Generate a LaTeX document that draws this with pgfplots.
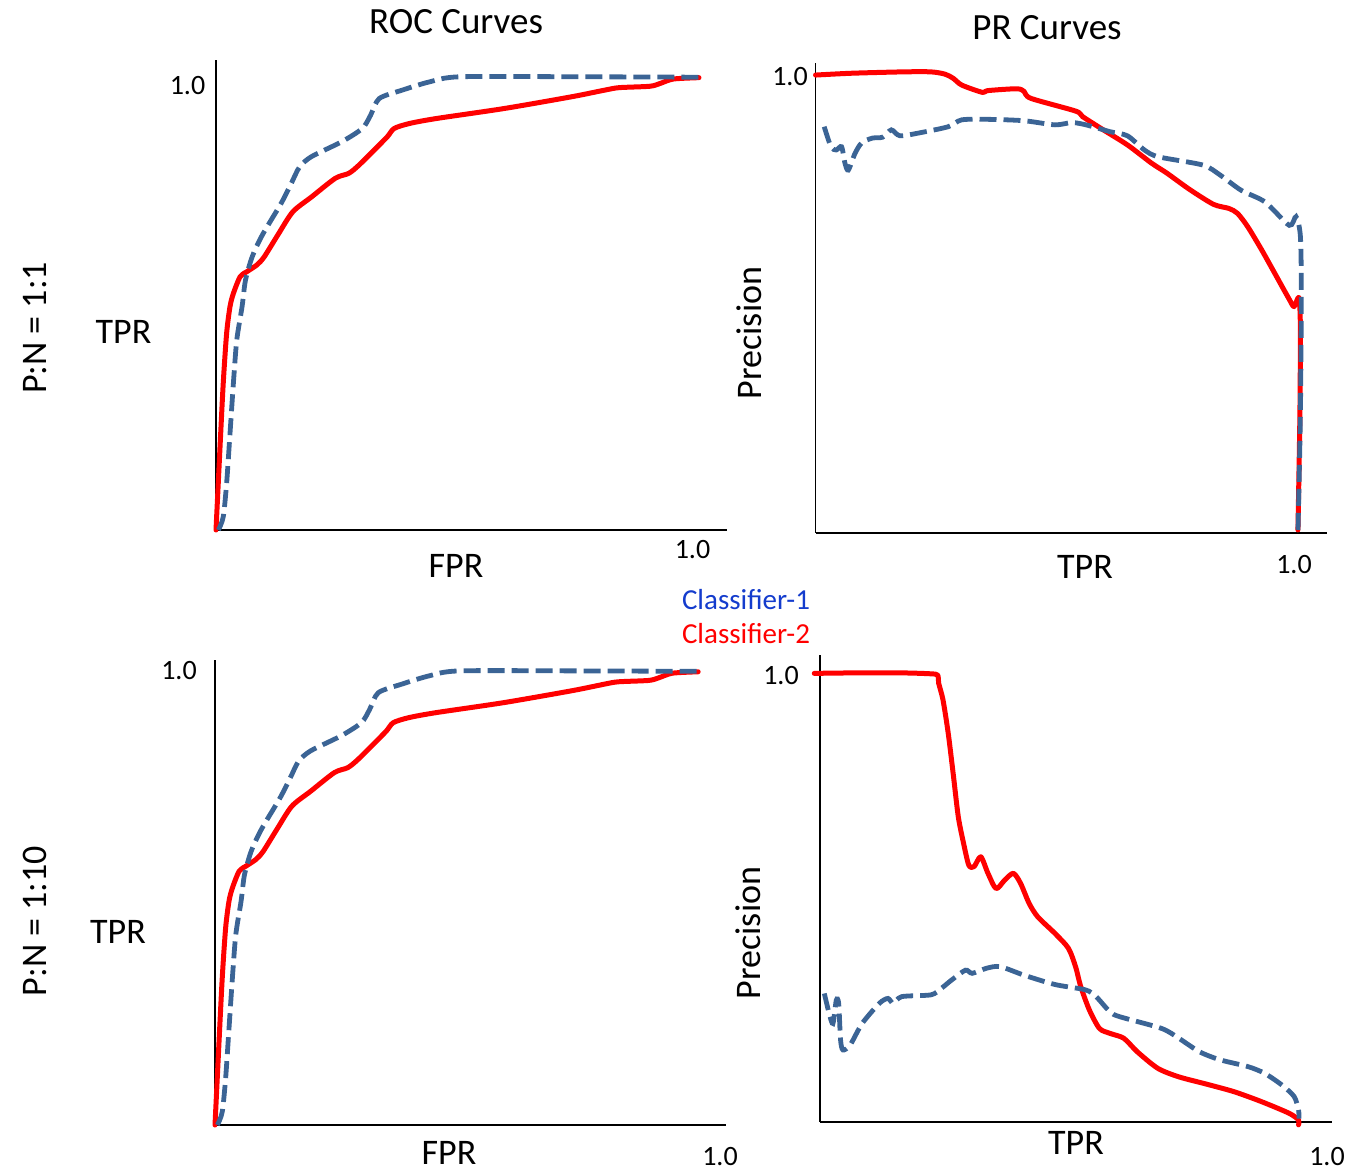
\documentclass[border=0pt]{standalone}
\usepackage{fontspec}
\setmainfont{Carlito}
\usepackage{pgfplots}
\pgfplotsset{compat=1.18}

\definecolor{cblue}{RGB}{59,100,149}
\definecolor{lblue}{RGB}{20,60,205}

\pgfplotsset{
  panel/.style={
    scale only axis,
    axis x line*=bottom, axis y line*=left,
    axis line style={line width=1.8pt, black},
    xtick=\empty, ytick=\empty,
    xmin=0, ymin=0,
    clip=false,
  },
  c1/.style={cblue, line width=4.8pt, dash pattern=on 17pt off 7pt, smooth, tension=0.45},
  c2/.style={red, line width=5pt, line cap=round, line join=round, smooth, tension=0.45},
}

\newcommand\lab[2]{\fontsize{#1}{#1}\selectfont #2}

\begin{document}
\begin{tikzpicture}[x=1pt,y=1pt]
\useasboundingbox (0,0) rectangle (1359,1173);

% ---------------- top left: ROC, P:N = 1:1
\begin{axis}[panel, at={(216pt,643pt)}, anchor=south west,
  width=511pt, height=470pt, xmax=1.058, ymax=1.037]
\addplot[c2] coordinates {
 (0,0) (0.008,0.176) (0.015,0.324) (0.022,0.434) (0.029,0.493) (0.036,0.522)
 (0.050,0.559) (0.064,0.570) (0.085,0.585) (0.100,0.603) (0.128,0.651)
 (0.159,0.702) (0.198,0.735) (0.247,0.776) (0.275,0.787) (0.296,0.805)
 (0.331,0.842) (0.355,0.868) (0.369,0.886) (0.401,0.897) (0.457,0.908)
 (0.597,0.930) (0.737,0.956) (0.807,0.971) (0.835,0.976) (0.898,0.979)
 (0.919,0.985) (0.947,0.995) (1.0,0.998)};
\addplot[c1] coordinates {
 (0.005,0) (0.015,0.029) (0.022,0.103) (0.029,0.213) (0.036,0.324) (0.043,0.419)
 (0.054,0.493) (0.061,0.551) (0.075,0.603) (0.096,0.651) (0.135,0.721)
 (0.156,0.765) (0.173,0.801) (0.198,0.824) (0.261,0.857) (0.303,0.886)
 (0.320,0.915) (0.338,0.952) (0.387,0.971) (0.443,0.989) (0.506,1.0)
 (0.75,1.0) (1.0,0.999)};
\end{axis}

% ---------------- top right: PR, P:N = 1:1
\begin{axis}[panel, at={(815.5pt,640.3pt)}, anchor=south west,
  width=511.4pt, height=469.5pt, xmax=1.059, ymax=1.028]
\addplot[c2] coordinates {
 (0,1.002) (0.075,1.006) (0.182,1.009) (0.239,1.009) (0.268,1.004) (0.285,0.995)
 (0.303,0.980) (0.346,0.964) (0.357,0.968) (0.417,0.972) (0.432,0.966)
 (0.446,0.951) (0.539,0.923) (0.553,0.911) (0.596,0.882) (0.646,0.849)
 (0.696,0.809) (0.728,0.787) (0.774,0.752) (0.824,0.719) (0.856,0.710)
 (0.874,0.699) (0.895,0.670) (0.924,0.619) (0.952,0.566) (0.981,0.511)
 (0.991,0.495) (1.001,0.515) (1.004,0.45) (1.003,0.254) (0.999,0.006)};
\addplot[c1] coordinates {
 (0.018,0.889) (0.032,0.845) (0.043,0.838) (0.054,0.845) (0.061,0.809)
 (0.068,0.794) (0.082,0.831) (0.096,0.854) (0.118,0.864) (0.139,0.866)
 (0.157,0.882) (0.175,0.869) (0.218,0.876) (0.275,0.889) (0.303,0.904)
 (0.360,0.905) (0.432,0.902) (0.496,0.893) (0.531,0.898) (0.560,0.893)
 (0.610,0.878) (0.646,0.869) (0.681,0.838) (0.710,0.823) (0.802,0.805)
 (0.838,0.783) (0.881,0.750) (0.931,0.724) (0.981,0.673) (0.995,0.692)
 (1.004,0.650) (1.006,0.526) (1.004,0.254) (0.999,-0.001)};
\end{axis}

% ---------------- bottom left: ROC, P:N = 1:10
\begin{axis}[panel, at={(215pt,48pt)}, anchor=south west,
  width=510.7pt, height=465pt, xmax=1.057, ymax=1.024]
\addplot[c2] coordinates {
 (0,0) (0.008,0.176) (0.015,0.324) (0.022,0.434) (0.029,0.493) (0.036,0.522)
 (0.050,0.559) (0.064,0.570) (0.085,0.585) (0.100,0.603) (0.128,0.651)
 (0.159,0.702) (0.198,0.735) (0.247,0.776) (0.275,0.787) (0.296,0.805)
 (0.331,0.842) (0.355,0.868) (0.369,0.886) (0.401,0.897) (0.457,0.908)
 (0.597,0.930) (0.737,0.956) (0.807,0.971) (0.835,0.976) (0.898,0.979)
 (0.919,0.985) (0.947,0.995) (1.0,0.998)};
\addplot[c1] coordinates {
 (0.005,0) (0.015,0.029) (0.022,0.103) (0.029,0.213) (0.036,0.324) (0.043,0.419)
 (0.054,0.493) (0.061,0.551) (0.075,0.603) (0.096,0.651) (0.135,0.721)
 (0.156,0.765) (0.173,0.801) (0.198,0.824) (0.261,0.857) (0.303,0.886)
 (0.320,0.915) (0.338,0.952) (0.387,0.971) (0.443,0.989) (0.506,1.0)
 (0.75,1.0) (1.0,0.999)};
\end{axis}

% ---------------- bottom right: PR, P:N = 1:10
\begin{axis}[panel, at={(820pt,51.3pt)}, anchor=south west,
  width=512pt, height=466.7pt, xmax=1.070, ymax=1.041]
\addplot[c2] coordinates {
 (-0.012,1.0) (0.066,1.001) (0.174,1.001) (0.232,0.999) (0.246,0.996)
 (0.248,0.978) (0.257,0.941) (0.268,0.866) (0.279,0.770) (0.289,0.680)
 (0.300,0.621) (0.311,0.572) (0.322,0.569) (0.336,0.591) (0.351,0.554)
 (0.368,0.520) (0.386,0.539) (0.404,0.554) (0.419,0.532) (0.437,0.487)
 (0.455,0.457) (0.491,0.420) (0.519,0.387) (0.534,0.346) (0.545,0.301)
 (0.563,0.249) (0.584,0.208) (0.606,0.197) (0.635,0.186) (0.663,0.156)
 (0.706,0.119) (0.750,0.100) (0.807,0.084) (0.865,0.067) (0.922,0.045)
 (0.980,0.019) (1.0,0.004) (1.0,-0.007)};
\addplot[c1] coordinates {
 (0.009,0.286) (0.019,0.242) (0.027,0.219) (0.034,0.271) (0.039,0.264)
 (0.043,0.182) (0.048,0.160) (0.063,0.171) (0.088,0.219) (0.124,0.264)
 (0.142,0.275) (0.153,0.264) (0.171,0.279) (0.232,0.283) (0.253,0.297)
 (0.275,0.316) (0.304,0.338) (0.318,0.331) (0.347,0.342) (0.376,0.346)
 (0.426,0.327) (0.491,0.306) (0.555,0.294) (0.577,0.279) (0.606,0.245)
 (0.627,0.234) (0.714,0.208) (0.750,0.186) (0.793,0.156) (0.836,0.138)
 (0.894,0.123) (0.929,0.108) (0.965,0.082) (0.991,0.056) (1.0,0.026)
 (1.001,0.007)};
\end{axis}

% ---------------- texts
\node at (456,1151) {\lab{37}{ROC Curves}};
\node at (1047,1145) {\lab{37}{PR Curves}};

\node[rotate=90] at (35,845) {\lab{36}{P:N = 1:1}};
\node at (123.5,841) {\lab{36}{TPR}};
\node at (187.5,1087) {\lab{28}{1.0}};
\node at (456,607) {\lab{36}{FPR}};
\node at (692.5,623) {\lab{28}{1.0}};

\node[rotate=90] at (749,840) {\lab{36}{Precision}};
\node at (790,1096) {\lab{28}{1.0}};
\node at (1085,606) {\lab{36}{TPR}};
\node at (1294,608) {\lab{28}{1.0}};

\node[text=lblue] at (746,573) {\lab{29}{Classifier-1}};
\node[text=red] at (746,539) {\lab{29}{Classifier-2}};

\node[rotate=90] at (35,252) {\lab{36}{P:N = 1:10}};
\node at (118,241) {\lab{36}{TPR}};
\node at (179,502) {\lab{28}{1.0}};
\node at (449,20) {\lab{36}{FPR}};
\node at (720,16) {\lab{28}{1.0}};

\node[rotate=90] at (748,240) {\lab{36}{Precision}};
\node at (781,497) {\lab{28}{1.0}};
\node at (1076,30) {\lab{36}{TPR}};
\node at (1327,16) {\lab{28}{1.0}};
\end{tikzpicture}
\end{document}
